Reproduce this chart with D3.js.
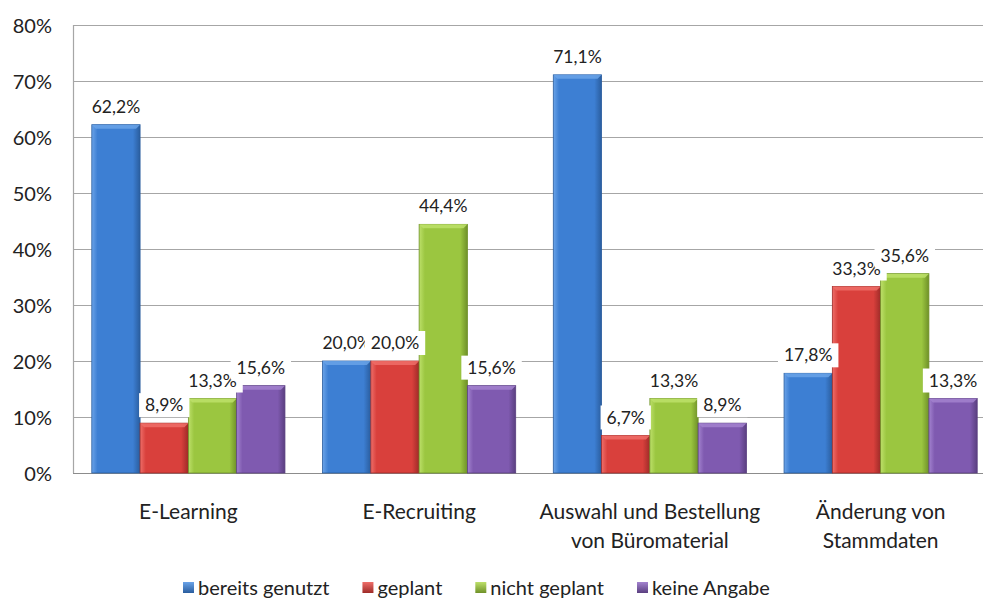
<!DOCTYPE html>
<html>
<head>
<meta charset="utf-8">
<script src="https://cdn.jsdelivr.net/npm/d3@7/dist/d3.min.js"></script>
<style>
  html, body { margin: 0; padding: 0; background: #fff; }
  svg { display: block; font-family: Lato, "Open Sans", sans-serif; }
</style>
</head>
<body>
<svg id="chart" width="983" height="599"></svg>
<script>
// Survey: use of self-service functions, share of responses per answer
const categories = [["E-Learning"], ["E-Recruiting"], ["Auswahl und Bestellung", "von Büromaterial"], ["Änderung von", "Stammdaten"]];
const seriesNames = ["bereits genutzt", "geplant", "nicht geplant", "keine Angabe"];
const bereitsGenutzt = [62.2, 20.0, 71.1, 17.8];
const geplant = [8.9, 20.0, 6.7, 33.3];
const nichtGeplant = [13.3, 44.4, 13.3, 35.6];
const keineAngabe = [15.6, 15.6, 8.9, 13.3];
const yTicks = [0, 10, 20, 30, 40, 50, 60, 70, 80];

const seriesValues = [bereitsGenutzt, geplant, nichtGeplant, keineAngabe];
const colors = [
  { base: "#3d7fd3", light: "#6aa3e8", dark: "#2a5d9e" },
  { base: "#d9403c", light: "#ee6e69", dark: "#9e2b28" },
  { base: "#9bc640", light: "#bde06a", dark: "#6f9128" },
  { base: "#7f5ab0", light: "#a383cf", dark: "#5a3f80" }
];

const svg = d3.select("#chart");
const plot = { left: 73, top: 25, bottom: 473, right: 996 };

const catKeys = categories.map(c => c.join(" "));
const x0 = d3.scaleBand().domain(catKeys).range([plot.left, plot.right]);
const x1 = d3.scaleBand().domain(seriesNames).range([18.8, x0.bandwidth() - 18.8]);
const y = d3.scaleLinear().domain([0, 80]).range([plot.bottom, plot.top]);

// gradients for the bevelled bars
const defs = svg.append("defs");
colors.forEach((c, i) => {
  const g = defs.append("linearGradient").attr("id", "grad" + i)
    .attr("x1", "0").attr("x2", "1").attr("y1", "0").attr("y2", "0");
  g.append("stop").attr("offset", "0").attr("stop-color", c.light);
  g.append("stop").attr("offset", "0.12").attr("stop-color", c.base);
  g.append("stop").attr("offset", "0.85").attr("stop-color", c.base);
  g.append("stop").attr("offset", "1").attr("stop-color", c.dark);
  const gv = defs.append("linearGradient").attr("id", "legend" + i)
    .attr("x1", "0").attr("x2", "0").attr("y1", "0").attr("y2", "1");
  gv.append("stop").attr("offset", "0").attr("stop-color", c.light);
  gv.append("stop").attr("offset", "1").attr("stop-color", c.dark);
});

// gridlines
svg.append("g")
  .selectAll("line").data(yTicks.filter(t => t > 0)).join("line")
  .attr("x1", plot.left).attr("x2", plot.right)
  .attr("y1", d => y(d) + 0.5).attr("y2", d => y(d) + 0.5)
  .attr("stroke", "#a6a6a6").attr("stroke-width", 1.2);

// plot frame: left edge and baseline
svg.append("line").attr("x1", plot.left + 0.5).attr("x2", plot.left + 0.5)
  .attr("y1", plot.top).attr("y2", plot.bottom).attr("stroke", "#a6a6a6").attr("stroke-width", 1.2);
svg.append("line").attr("x1", plot.left).attr("x2", plot.right)
  .attr("y1", plot.bottom + 0.5).attr("y2", plot.bottom + 0.5).attr("stroke", "#8c8c8c").attr("stroke-width", 1.2);

// y axis
const yAxis = d3.axisLeft(y).tickValues(yTicks).tickFormat(d => d + "%").tickSize(0).tickPadding(0);
const ya = svg.append("g").attr("transform", `translate(${52},0)`).call(yAxis);
ya.select(".domain").remove();
ya.selectAll("text").attr("font-size", 20).attr("fill", "#222").attr("font-family", "Lato, sans-serif").attr("dy", "0.35em");

// bars
const groups = svg.append("g").selectAll("g").data(catKeys).join("g")
  .attr("transform", d => `translate(${x0(d)},0)`);

seriesNames.forEach((s, si) => {
  groups.append("rect")
    .attr("x", x1(s)).attr("width", x1.bandwidth())
    .attr("y", (d, ci) => y(seriesValues[si][ci]))
    .attr("height", (d, ci) => y(0) - y(seriesValues[si][ci]))
    .attr("fill", `url(#grad${si})`)
    .attr("stroke", colors[si].dark).attr("stroke-width", 0.8);
  // top bevel highlight
  groups.append("path")
    .attr("d", (d, ci) => {
      const x = x1(s), w = x1.bandwidth(), t = y(seriesValues[si][ci]);
      return `M${x},${t}L${x + w},${t}L${x + w - 4},${t + 4}L${x + 4},${t + 4}Z`;
    })
    .attr("fill", colors[si].light).attr("opacity", 0.85);
});

// value labels with white boxes, drawn series by series so later ones cover earlier ones
const fmt = v => v.toFixed(1).replace(".", ",") + "%";
seriesNames.forEach((s, si) => {
  const lab = groups.append("g")
    .attr("transform", (d, ci) => `translate(${x1(s) + x1.bandwidth() / 2},${y(seriesValues[si][ci]) - 18})`);
  const box = lab.append("rect").attr("fill", "#fff");
  const txt = lab.append("text").attr("text-anchor", "middle").attr("dy", "0.35em")
    .attr("font-size", 17.5).attr("fill", "#222")
    .text((d, ci) => fmt(seriesValues[si][ci]));
  txt.each(function (d, ci) {
    const w = this.getComputedTextLength() + 12;
    d3.select(box.nodes()[ci]).attr("x", -w / 2).attr("y", -12).attr("width", w).attr("height", 24);
  });
});

// category labels
const catLab = svg.append("g").selectAll("text").data(categories).join("text")
  .attr("x", (d, i) => x0(catKeys[i]) + x0.bandwidth() / 2)
  .attr("y", 519)
  .attr("text-anchor", "middle").attr("font-size", 21).attr("fill", "#222");
catLab.selectAll("tspan").data(d => d).join("tspan")
  .attr("x", function () { return d3.select(this.parentNode).attr("x"); })
  .attr("dy", (d, i) => i === 0 ? 0 : 29)
  .text(d => d);

// legend, items laid out left to right with equal gaps
const legendGap = 33, legendStart = 183, legendY = 588;
const leg = svg.append("g").selectAll("g").data(seriesNames).join("g");
leg.append("rect").attr("x", 0).attr("y", -6).attr("width", 11).attr("height", 11)
  .attr("fill", (d, i) => `url(#legend${i})`);
leg.append("text").attr("x", 15).attr("dy", "0.35em").attr("font-size", 20).attr("fill", "#222").text(d => d);
let cursor = legendStart;
leg.each(function () {
  const g = d3.select(this);
  g.attr("transform", `translate(${cursor},${legendY})`);
  cursor += 15 + g.select("text").node().getComputedTextLength() + legendGap;
});
</script>
</body>
</html>
